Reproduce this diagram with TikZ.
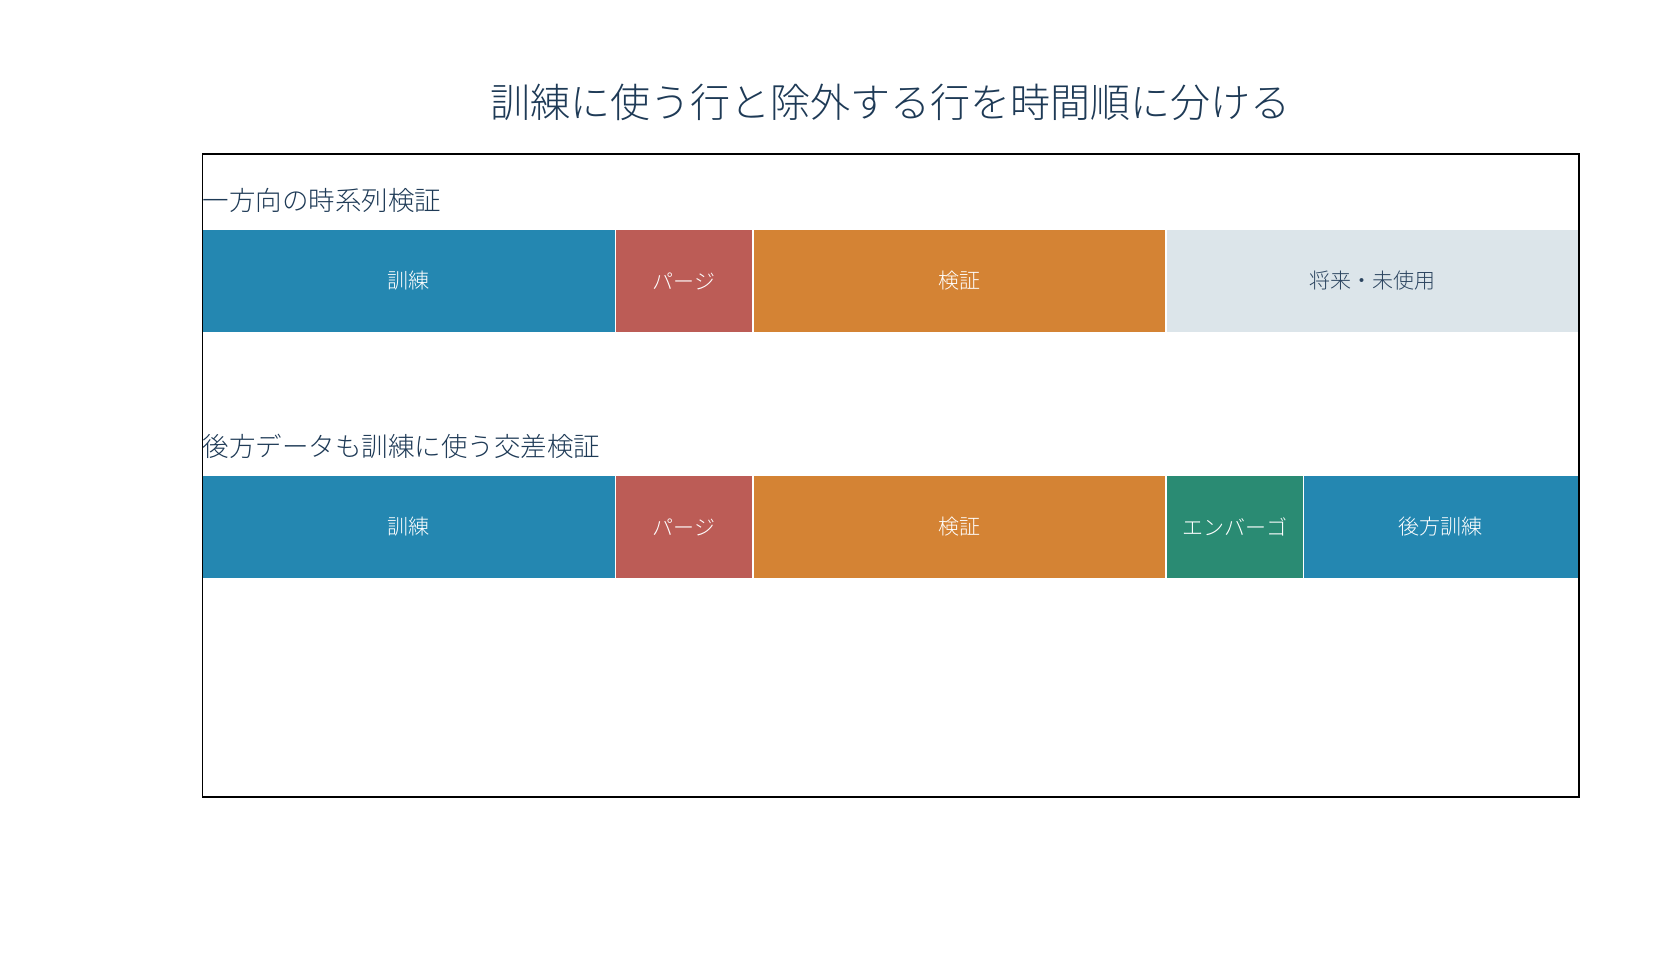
\documentclass[tikz,border=0pt]{standalone}
\usepackage{fontspec}
\setmainfont{Noto Sans CJK JP}[UprightFont=* Light]
\definecolor{ctrain}{HTML}{2487B1}
\definecolor{cpurge}{HTML}{BC5C56}
\definecolor{cval}{HTML}{D48334}
\definecolor{cfuture}{HTML}{DCE5EA}
\definecolor{cemb}{HTML}{2A8B73}
\definecolor{ctitle}{HTML}{1E3A56}
\definecolor{cdark}{HTML}{2C4560}
\tikzset{
  seg/.style={draw=white, line width=1.6pt, inner sep=0pt, minimum height=103pt,
    text=white, font=\fontsize{21}{25}\selectfont},
  sectlabel/.style={anchor=west, inner sep=0pt, text=ctitle, font=\fontsize{26.5}{32}\selectfont},
}
\begin{document}
\begin{tikzpicture}[x=1pt,y=-1pt]
\useasboundingbox (0,0) rectangle (1680,960);
\node[text=ctitle, font=\fontsize{40}{48}\selectfont] (title) at (890,102) {訓練に使う行と除外する行を時間順に分ける};
\node[sectlabel] (lab1) at (202.5,200) {一方向の時系列検証};
\node[sectlabel] (lab2) at (202.5,446) {後方データも訓練に使う交差検証};
% row 1
\node[seg, fill=ctrain, minimum width=412.8pt] (a1) at (408.9,281) {訓練};
\node[seg, fill=cpurge, minimum width=137.6pt] (a2) at (684.1,281) {パージ};
\node[seg, fill=cval, minimum width=412.8pt] (a3) at (959.3,281) {検証};
\node[seg, fill=cfuture, text=cdark, minimum width=412.8pt] (a4) at (1372.1,281) {将来・未使用};
% row 2
\node[seg, fill=ctrain, minimum width=412.8pt] (b1) at (408.9,527) {訓練};
\node[seg, fill=cpurge, minimum width=137.6pt] (b2) at (684.1,527) {パージ};
\node[seg, fill=cval, minimum width=412.8pt] (b3) at (959.3,527) {検証};
\node[seg, fill=cemb, minimum width=137.6pt] (b4) at (1234.5,527) {エンバーゴ};
\node[seg, fill=ctrain, minimum width=275.2pt] (b5) at (1440.9,527) {後方訓練};
% frame
\draw[line width=1.5pt, black] (202.5,154) rectangle (1579,797);
\end{tikzpicture}
\end{document}
